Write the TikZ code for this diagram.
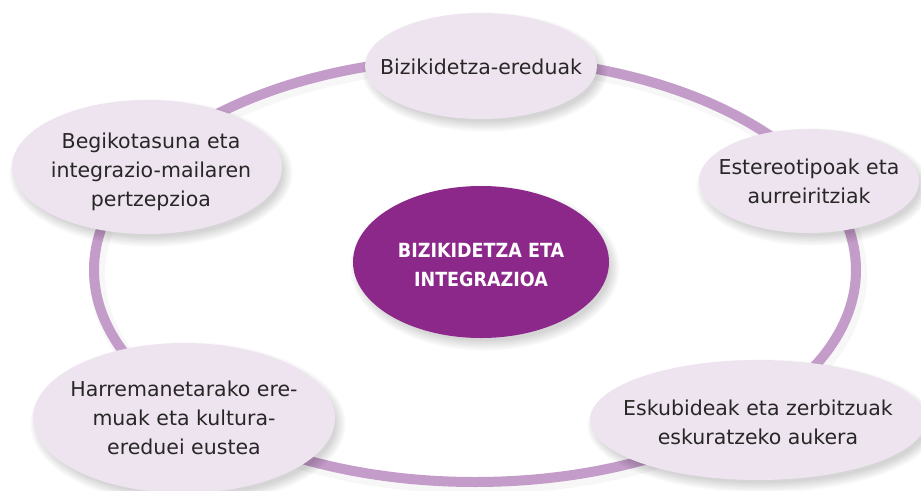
\documentclass[tikz,border=0pt]{standalone}
\usepackage{fontspec}
\setmainfont{DejaVu Sans}
\newfontfamily\centerfont{DejaVu Sans Condensed Bold}
\usetikzlibrary{shapes.geometric}
\definecolor{ringcol}{RGB}{196,156,201}
\definecolor{satfill}{RGB}{237,228,240}
\definecolor{corefill}{RGB}{140,40,138}
\definecolor{txt}{RGB}{40,38,38}
\newcommand\softshadow[4]{%
  \foreach \k in {0,...,6}{%
    \fill[black, fill opacity=0.022] (#1+4,#2+6) ellipse [x radius={#3-3+\k*1.6}, y radius={#4-3+\k*1.6}];
  }%
}
\begin{document}
\begin{tikzpicture}[x=1pt,y=-1pt,
  ringline/.style={draw=ringcol, line width=10pt},
  satshape/.style={ellipse, fill=satfill, inner sep=0pt},
  coreshape/.style={ellipse, fill=corefill, inner sep=0pt},
  satlabel/.style={inner sep=0pt, align=center, text=txt,
              font=\fontsize{20.5}{29}\selectfont},
  corelabel/.style={inner sep=0pt, align=center, text=white,
              font=\centerfont\fontsize{19.5}{29}\selectfont}]
\useasboundingbox (0,0) rectangle (921,490);
\fill[white] (0,0) rectangle (921,490);
% ring with faint shadow
\draw[black, opacity=0.03, line width=16pt] (478,274) ellipse [x radius=381, y radius=212];
\draw[ringline] (475,270) ellipse [x radius=381, y radius=212];
% shadows of nodes
\softshadow{481}{66}{116}{53}
\softshadow{147}{167}{135}{67}
\softshadow{809}{181}{110}{52}
\softshadow{184}{418}{151}{75}
\softshadow{758}{420}{168}{60}
\softshadow{481}{262}{128}{76}
% ellipses
\node[satshape, minimum width=232pt, minimum height=106pt] (top) at (481,66) {};
\node[satshape, minimum width=270pt, minimum height=134pt] (tl) at (147,167) {};
\node[satshape, minimum width=220pt, minimum height=104pt] (rt) at (809,181) {};
\node[satshape, minimum width=302pt, minimum height=150pt] (bl) at (184,418) {};
\node[satshape, minimum width=336pt, minimum height=120pt] (br) at (758,420) {};
\node[coreshape, minimum width=256pt, minimum height=152pt] (core) at (481,262) {};
% texts
\node[satlabel] (top-t) at ([yshift=-1pt]top.center) {Bizikidetza-ereduak};
\node[satlabel] (tl-t) at ([xshift=4pt,yshift=-5pt]tl.center) {Begikotasuna eta\\integrazio-mailaren\\pertzepzioa};
\node[satlabel] (rt-t) at (rt.center) {Estereotipoak eta\\aurreiritziak};
\node[satlabel] (bl-t) at (bl.center) {Harremanetarako ere-\\muak eta kultura-\\ereduei eustea};
\node[satlabel] (br-t) at ([yshift=-2pt]br.center) {Eskubideak eta zerbitzuak\\eskuratzeko aukera};
\node[corelabel] (core-t) at ([yshift=-3pt]core.center) {BIZIKIDETZA ETA\\INTEGRAZIOA};
\end{tikzpicture}
\end{document}
